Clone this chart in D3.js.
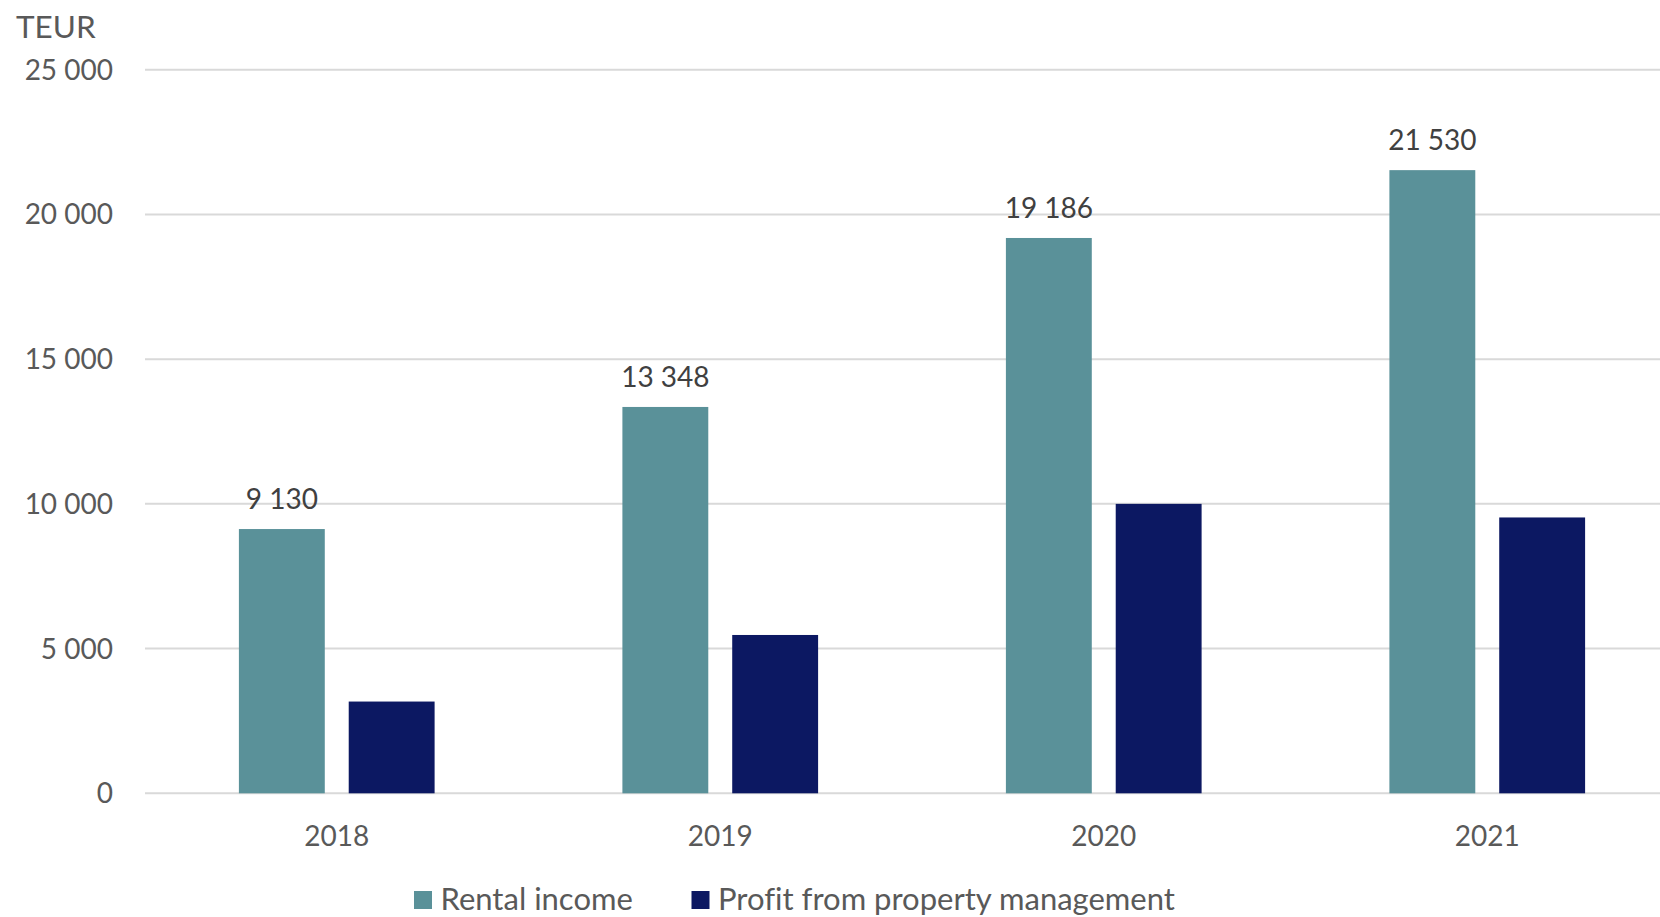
<!DOCTYPE html>
<html>
<head>
<meta charset="utf-8">
<script src="https://cdn.jsdelivr.net/npm/d3@7"></script>
<style>
html,body{margin:0;padding:0;background:#fff;}
svg{display:block;}
text{font-family:Lato, "Open Sans", sans-serif;font-variant-ligatures:none;}
</style>
</head>
<body>
<svg id="chart" width="1660" height="917"></svg>
<script>
const years = ["2018","2019","2020","2021"];
const seriesNames = ["Rental income","Profit from property management"];
const rentalIncome = [9130, 13348, 19186, 21530];
const propertyProfit = [3170, 5470, 10000, 9530];
const yTicks = [0, 5000, 10000, 15000, 20000, 25000];
const unitLabel = "TEUR";
const colors = ["#5a9199", "#0c1862"];

const svg = d3.select("#chart");
const W = 1660, H = 917;
const plotLeft = 145, plotRight = 1679, y0 = 793.3, yTop = 69.7;

const x = d3.scaleBand().domain(years).range([plotLeft, plotRight]).paddingInner(0).paddingOuter(0);
const xs = d3.scaleBand().domain(seriesNames).range([0, x.bandwidth()]).paddingInner(0.218).paddingOuter(0.855);
const y = d3.scaleLinear().domain([0, 25000]).range([y0, yTop]);

const fmt = v => d3.format(",")(v).replace(/,/g, " ");

// gridlines
svg.append("g").selectAll("line").data(yTicks).join("line")
  .attr("x1", plotLeft).attr("x2", W)
  .attr("y1", d => y(d)).attr("y2", d => y(d))
  .attr("stroke", "#d9d9d9").attr("stroke-width", 2);

// y axis labels
const yAxis = d3.axisLeft(y).tickValues(yTicks).tickFormat(fmt).tickSize(0).tickPadding(0);
const ga = svg.append("g").attr("transform", `translate(113,0)`).call(yAxis);
ga.select(".domain").remove();
ga.selectAll("text").attr("font-size", 28).attr("fill", "#595959")
  .style("font-family", "Lato, 'Open Sans', sans-serif").attr("dy", "0.34em");

// unit label
svg.append("text").attr("x", 16).attr("y", 37.5).text(unitLabel)
  .attr("font-size", 31.5).attr("fill", "#595959");

// x axis labels
const xAxis = d3.axisBottom(x).tickSize(0).tickPadding(0);
const gx = svg.append("g").attr("transform", `translate(0,${y0})`).call(xAxis);
gx.select(".domain").remove();
gx.selectAll("text").attr("font-size", 28).attr("fill", "#595959")
  .style("font-family", "Lato, 'Open Sans', sans-serif").attr("dy", null).attr("y", 53);

// bars
const rows = years.map((yr, i) => ({year: yr, values: [rentalIncome[i], propertyProfit[i]]}));
const groups = svg.append("g").selectAll("g").data(rows).join("g")
  .attr("transform", d => `translate(${x(d.year)},0)`);
groups.selectAll("rect").data(d => d.values.map((v, j) => ({name: seriesNames[j], value: v, j})))
  .join("rect")
  .attr("x", d => xs(d.name)).attr("width", xs.bandwidth())
  .attr("y", d => y(d.value)).attr("height", d => y0 - y(d.value))
  .attr("fill", d => colors[d.j]);

// data labels for rental income
groups.append("text")
  .attr("x", xs(seriesNames[0]) + xs.bandwidth()/2)
  .attr("y", (d, i) => y(rentalIncome[i]) - 20)
  .attr("text-anchor", "middle")
  .attr("font-size", 28).attr("fill", "#404040")
  .text((d, i) => fmt(rentalIncome[i]));

// legend
const legendItems = [{name: seriesNames[0], sx: 414, tx: 440.5, c: colors[0]},
                     {name: seriesNames[1], sx: 691.5, tx: 718, c: colors[1]}];
const lg = svg.append("g");
legendItems.forEach(it => {
  lg.append("rect").attr("x", it.sx).attr("y", 891).attr("width", 18).attr("height", 18).attr("fill", it.c);
  lg.append("text").attr("x", it.tx).attr("y", 909.5).attr("font-size", 31).attr("fill", "#595959").text(it.name);
});
</script>
</body>
</html>
